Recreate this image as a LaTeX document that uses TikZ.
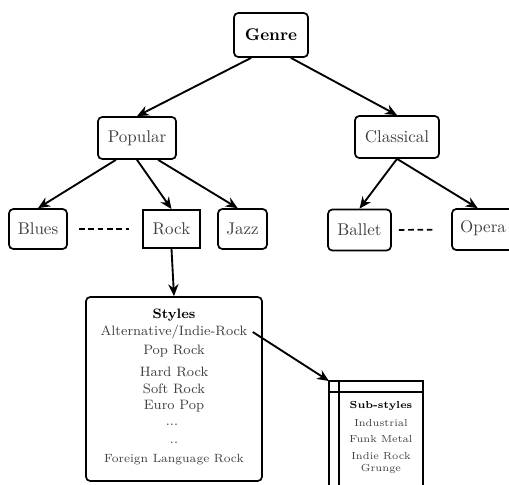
\documentclass[tikz,border=0pt]{standalone}
\usetikzlibrary{arrows.meta}
\definecolor{cTxt}{HTML}{404040}

\begin{document}
\begin{tikzpicture}[
    x=0.588pt, y=-0.588pt,
    box/.style={draw, line width=1pt, rounded corners=2.5pt, inner sep=0pt,
                text=cTxt, font=\normalsize},
    sqbox/.style={draw, line width=1pt, inner sep=0pt, text=cTxt},
    sig/.style={-{Stealth[length=7pt, width=6pt]}, line width=1.1pt},
    dashln/.style={line width=1pt, dash pattern=on 3.3pt off 2.2pt},
    item/.style={font=\footnotesize, text=cTxt, inner sep=1pt},
    sitem/.style={font=\fontsize{6}{7}\selectfont, text=cTxt, inner sep=1pt},
]
\clip (0,0) rectangle (509,484);

% ===================== Genre =====================
\node[box, text=black, minimum width=43.5pt, minimum height=25.9pt] (genre) at (271,35)
      {\textbf{Genre}};

% ===================== Nivel 1 =====================
\node[box, minimum width=45.9pt, minimum height=24.7pt] (popular) at (137,138) {Popular};
\node[box, minimum width=49.4pt, minimum height=24.7pt] (classical) at (397,137) {Classical};

% ===================== Nivel 2 =====================
\node[box, minimum width=34.1pt, minimum height=23.5pt] (blues) at (38,229) {Blues};
\node[sqbox, minimum width=33.5pt, minimum height=22.4pt] (rock) at (171.5,229) {Rock};
\node[box, minimum width=28.8pt, minimum height=23.5pt] (jazz) at (242.5,229) {Jazz};
\node[box, minimum width=37pt, minimum height=24.1pt] (ballet) at (359.5,230) {Ballet};
\node[box, minimum width=36.5pt, minimum height=24.1pt, text depth=3.5pt] (opera) at (483,229.5) {Opera};

\draw[sig] (genre.229) -- (popular.north);
\draw[sig] (genre.311) -- (classical.north);
\draw[sig] (popular.226) -- (blues.north);
\draw[sig] (popular.south) -- (rock.north);
\draw[sig] (popular.314) -- (jazz.103);
\draw[sig] (classical.south) -- (ballet.north);
\draw[sig] (classical.south) -- (opera.104);

\draw[dashln, shorten <=6.5pt, shorten >=7.6pt] (blues.east) -- (rock.west);
\draw[dashln, shorten <=4.1pt, shorten >=10pt] (ballet.east) -- (opera.west);

% ===================== Styles =====================
\node[box, minimum width=103.5pt, minimum height=108.2pt] (styles) at (174,389) {};
\draw[sig] (rock.south) -- (styles.north);

\node[item, text=black] (stylesT) at (174,315) {\textbf{Styles}};
\node[item] (alt)     at (174,332) {Alternative/Indie-Rock};
\node[item] (poprock) at (174,351) {Pop Rock};
\node[item] (hard)    at (174,372) {Hard Rock};
\node[item] (soft)    at (174,389) {Soft Rock};
\node[item] (euro)    at (174,406) {Euro Pop};
\node[item] (dotsA)   at (172,425) {...};
\node[item] (dotsB)   at (174,443) {..};
\node[item, font=\scriptsize] (foreign) at (174,460) {Foreign Language Rock};

% ===================== Sub-styles =====================
\coordinate (subNW) at (329,381);
\draw[line width=1pt] (subNW) rectangle (423,520);
\draw[line width=1pt] (339,381) -- (339,520);
\draw[line width=1pt] (329,392) -- (423,392);
\draw[sig] ([xshift=2pt]alt.east) -- (subNW);

\node[sitem, text=black] (subT) at (381,406) {\textbf{Sub-styles}};
\node[sitem] (indus) at (381,423) {Industrial};
\node[sitem] (funk)  at (381,439) {Funk Metal};
\node[sitem] (indie) at (381,456) {Indie Rock};
\node[sitem] (grunge) at (381,469) {Grunge};

\end{tikzpicture}
\end{document}
